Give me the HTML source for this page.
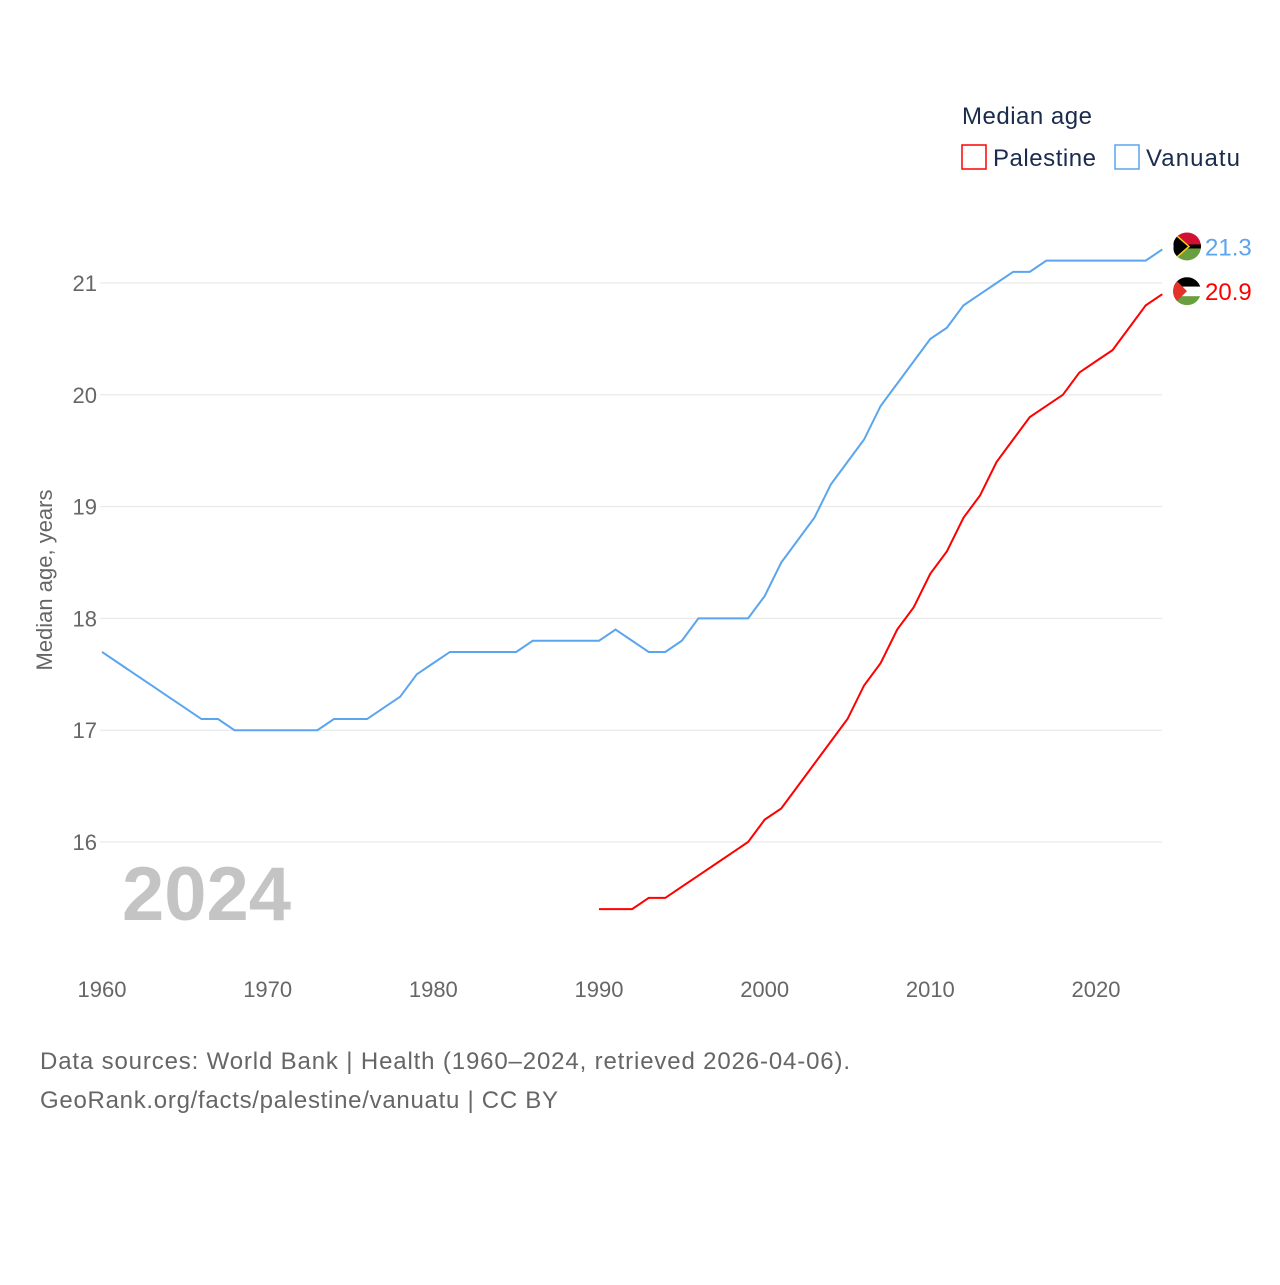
<!DOCTYPE html>
<html><head><meta charset="utf-8">
<style>
body{margin:0;background:#fff;font-family:"Liberation Sans",sans-serif;}
svg text{font-family:"Liberation Sans",sans-serif;}
</style></head>
<body>
<svg width="1280" height="1280" viewBox="0 0 1280 1280">
<g id="grid"></g>
<g id="yticks"></g>
<g id="xticks"></g>
<text x="52" y="580" transform="rotate(-90 52 580)" text-anchor="middle" font-size="22" fill="#666">Median age, years</text>
<text x="122" y="920" font-size="76" font-weight="bold" fill="#c4c4c4">2024</text>
<g id="lines"></g>
<g>
<text x="962" y="124" font-size="24" fill="#1a2b4c" textLength="130">Median age</text>
<rect x="962" y="145" width="24" height="24" fill="none" stroke="#f00" stroke-width="1.5"/>
<text x="993" y="166" font-size="24" fill="#1a2b4c" textLength="103">Palestine</text>
<rect x="1115" y="145" width="24" height="24" fill="none" stroke="#5aa5ee" stroke-width="1.5"/>
<text x="1146" y="166" font-size="24" fill="#1a2b4c" textLength="94">Vanuatu</text>
</g>
<g id="ends"></g>
<text x="40" y="1069" font-size="24" fill="#666" textLength="810">Data sources: World Bank | Health (1960–2024, retrieved 2026-04-06).</text>
<text x="40" y="1108" font-size="24" fill="#666" textLength="518">GeoRank.org/facts/palestine/vanuatu | CC BY</text>
</svg>
<script>
const yTicks=[16,17,18,19,20,21];
const xTicks=[1960,1970,1980,1990,2000,2010,2020];
const vanYears=[];for(let y=1960;y<=2024;y++)vanYears.push(y);
const vanuatu=[17.7,17.6,17.5,17.4,17.3,17.2,17.1,17.1,17.0,17.0,17.0,17.0,17.0,17.0,17.1,17.1,17.1,17.2,17.3,17.5,17.6,17.7,17.7,17.7,17.7,17.7,17.8,17.8,17.8,17.8,17.8,17.9,17.8,17.7,17.7,17.8,18.0,18.0,18.0,18.0,18.2,18.5,18.7,18.9,19.2,19.4,19.6,19.9,20.1,20.3,20.5,20.6,20.8,20.9,21.0,21.1,21.1,21.2,21.2,21.2,21.2,21.2,21.2,21.2,21.3];
const palYears=[];for(let y=1990;y<=2024;y++)palYears.push(y);
const palestine=[15.4,15.4,15.4,15.5,15.5,15.6,15.7,15.8,15.9,16.0,16.2,16.3,16.5,16.7,16.9,17.1,17.4,17.6,17.9,18.1,18.4,18.6,18.9,19.1,19.4,19.6,19.8,19.9,20.0,20.2,20.3,20.4,20.6,20.8,20.9];
const NS="http://www.w3.org/2000/svg";
const X=y=>102+(y-1960)*(994/60);
const Y=v=>842-(v-16)*111.8;
function mk(t,a,p){const e=document.createElementNS(NS,t);for(const k in a)e.setAttribute(k,a[k]);p.appendChild(e);return e;}
const grid=document.getElementById('grid'),yt=document.getElementById('yticks'),xt=document.getElementById('xticks');
yTicks.forEach(v=>{
 const l=mk('line',{x1:100,x2:1162,y1:Y(v),y2:Y(v),stroke:'#e6e6e6','stroke-width':1},grid);
 
 
 const t=mk('text',{x:97,y:Y(v)+8,'text-anchor':'end','font-size':22,fill:'#666'},yt);t.textContent=v;
 
 
});
xTicks.forEach(v=>{
 const t=mk('text',{x:X(v),y:997,'text-anchor':'middle','font-size':22,fill:'#666'},xt);t.textContent=v;
 
 
});
const lines=document.getElementById('lines');
function line(xs,vs,c,name){
 const p=mk('path',{d:xs.map((x,i)=>(i?'L':'M')+X(x)+','+Y(vs[i])).join(''),fill:'none',stroke:c,'stroke-width':2},lines);
 
 
}
line(vanYears,vanuatu,'#5aa5ee','line-vanuatu');
line(palYears,palestine,'#f00','line-palestine');
const ends=document.getElementById('ends');
function end(v,c,name,flag){
 const cy=Y(v)-3,cx=1187;
 const g=mk('g',{},ends);
 
 
 const id='c'+name;
 const cp=mk('clipPath',{id:id},g);mk('circle',{cx:cx,cy:cy,r:14},cp);
 const f=mk('g',{'clip-path':'url(#'+id+')'},g);
 if(flag==='vu'){
  mk('rect',{x:cx-14,y:cy-14,width:28,height:14,fill:'#d21034'},f);
  mk('rect',{x:cx-14,y:cy,width:28,height:14,fill:'#6a9f40'},f);
  mk('rect',{x:cx-14,y:cy-2,width:28,height:4,fill:'#000'},f);
  mk('polygon',{points:`${cx-14},${cy-14} ${cx+2},${cy} ${cx-14},${cy+14}`,fill:'#000',stroke:'#fdce12','stroke-width':1.5},f);
 }else{
  mk('rect',{x:cx-14,y:cy-14,width:28,height:9.5,fill:'#000'},f);
  mk('rect',{x:cx-14,y:cy-4.5,width:28,height:9.5,fill:'#fff'},f);
  mk('rect',{x:cx-14,y:cy+5,width:28,height:9.5,fill:'#6a9f40'},f);
  mk('polygon',{points:`${cx-14},${cy-14} ${cx},${cy} ${cx-14},${cy+14}`,fill:'#e4312b'},f);
 }
 const t=mk('text',{x:1205,y:cy+9,'font-size':24,fill:c},g);t.textContent=v.toFixed(1);
}
end(vanuatu[vanuatu.length-1],'#5aa5ee','end-label-vanuatu','vu');
end(palestine[palestine.length-1],'#f00','end-label-palestine','ps');
</script>
</body></html>
